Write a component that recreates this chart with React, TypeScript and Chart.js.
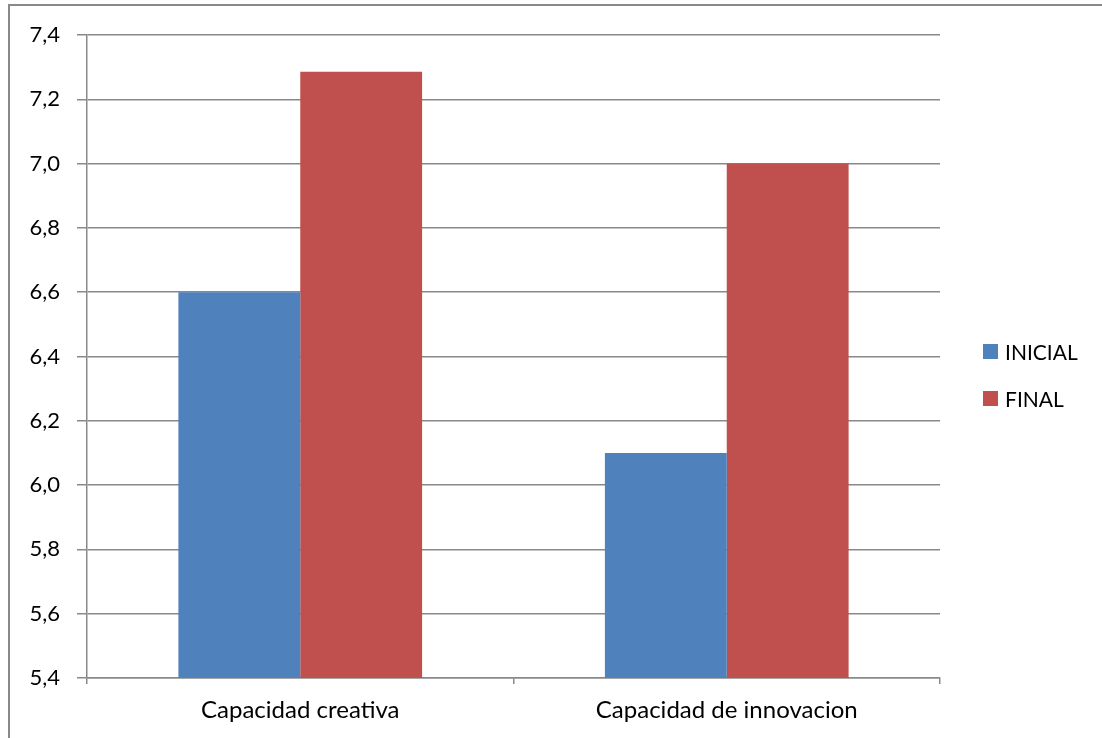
import React, { useEffect, useRef } from "react";
import { Chart, registerables } from "chart.js";

Chart.register(...registerables);

const categories = ["Capacidad creativa", "Capacidad de innovacion"];
const seriesNames = ["INICIAL", "FINAL"];
const inicialValues = [6.6, 6.1];
const finalValues = [7.286, 7.0];
const seriesColors = ["#4F81BD", "#C0504D"];
const yMin = 5.4;
const yMax = 7.4;
const yStep = 0.2;

const FONT = "Lato, 'Open Sans', sans-serif";
const GRID = "#898989";

export default function App() {
  const ref = useRef<HTMLCanvasElement | null>(null);

  useEffect(() => {
    if (!ref.current) return;
    const chart = new Chart(ref.current, {
      type: "bar",
      data: {
        labels: categories,
        datasets: [
          {
            label: seriesNames[0],
            data: inicialValues,
            backgroundColor: seriesColors[0],
            borderWidth: 0,
            categoryPercentage: 0.5714,
            barPercentage: 1,
          },
          {
            label: seriesNames[1],
            data: finalValues,
            backgroundColor: seriesColors[1],
            borderWidth: 0,
            categoryPercentage: 0.5714,
            barPercentage: 1,
          },
        ],
      },
      options: {
        animation: false,
        responsive: false,
        devicePixelRatio: 1,
        layout: { padding: { left: 0, right: 162, top: 35, bottom: 0 } },
        plugins: {
          legend: { display: false },
          tooltip: { enabled: false },
        },
        scales: {
          x: {
            grid: {
              display: true,
              drawOnChartArea: false,
              drawTicks: true,
              tickLength: 6,
              color: GRID,
              lineWidth: 1.5,
              offset: true,
            },
            border: { display: true, color: GRID, width: 1.5 },
            ticks: {
              color: "#000",
              font: { family: FONT, size: 24 },
              padding: 12,
              maxRotation: 0,
            },
            afterFit: (scale: any) => {
              scale.height = 60;
            },
          },
          y: {
            min: yMin,
            max: yMax,
            grid: {
              color: GRID,
              lineWidth: 1.5,
              drawTicks: true,
              tickLength: 10,
            },
            border: { display: true, color: GRID, width: 1.5 },
            ticks: {
              stepSize: yStep,
              color: "#000",
              font: { family: FONT, size: 22 },
              padding: 17,
              callback: (v: any) => Number(v).toFixed(1).replace(".", ","),
            },
            afterFit: (scale: any) => {
              scale.width = 87;
            },
          },
        },
      },
    });
    return () => chart.destroy();
  }, []);

  const legendTops = [351, 398];

  return (
    <div style={{ position: "fixed", left: 0, top: 0, width: 1102, height: 738, overflow: "hidden", background: "#fff" }}>
      <div
        style={{
          position: "absolute",
          left: 8,
          top: 4,
          width: 1200,
          height: 900,
          borderLeft: `2px solid ${GRID}`,
          borderTop: `2px solid ${GRID}`,
        }}
      />
      <canvas ref={ref} width={1102} height={738} style={{ position: "absolute", left: 0, top: 0, width: 1102, height: 738 }} />
      {seriesNames.map((name, i) => (
        <div
          key={name}
          style={{
            position: "absolute",
            left: 983,
            top: legendTops[i] - 13,
            height: 26,
            display: "flex",
            alignItems: "center",
            fontFamily: FONT,
            fontSize: 21,
            color: "#000",
            whiteSpace: "nowrap",
          }}
        >
          <span style={{ display: "inline-block", width: 15, height: 15, background: seriesColors[i], marginRight: 7 }} />
          <span>{name}</span>
        </div>
      ))}
    </div>
  );
}
